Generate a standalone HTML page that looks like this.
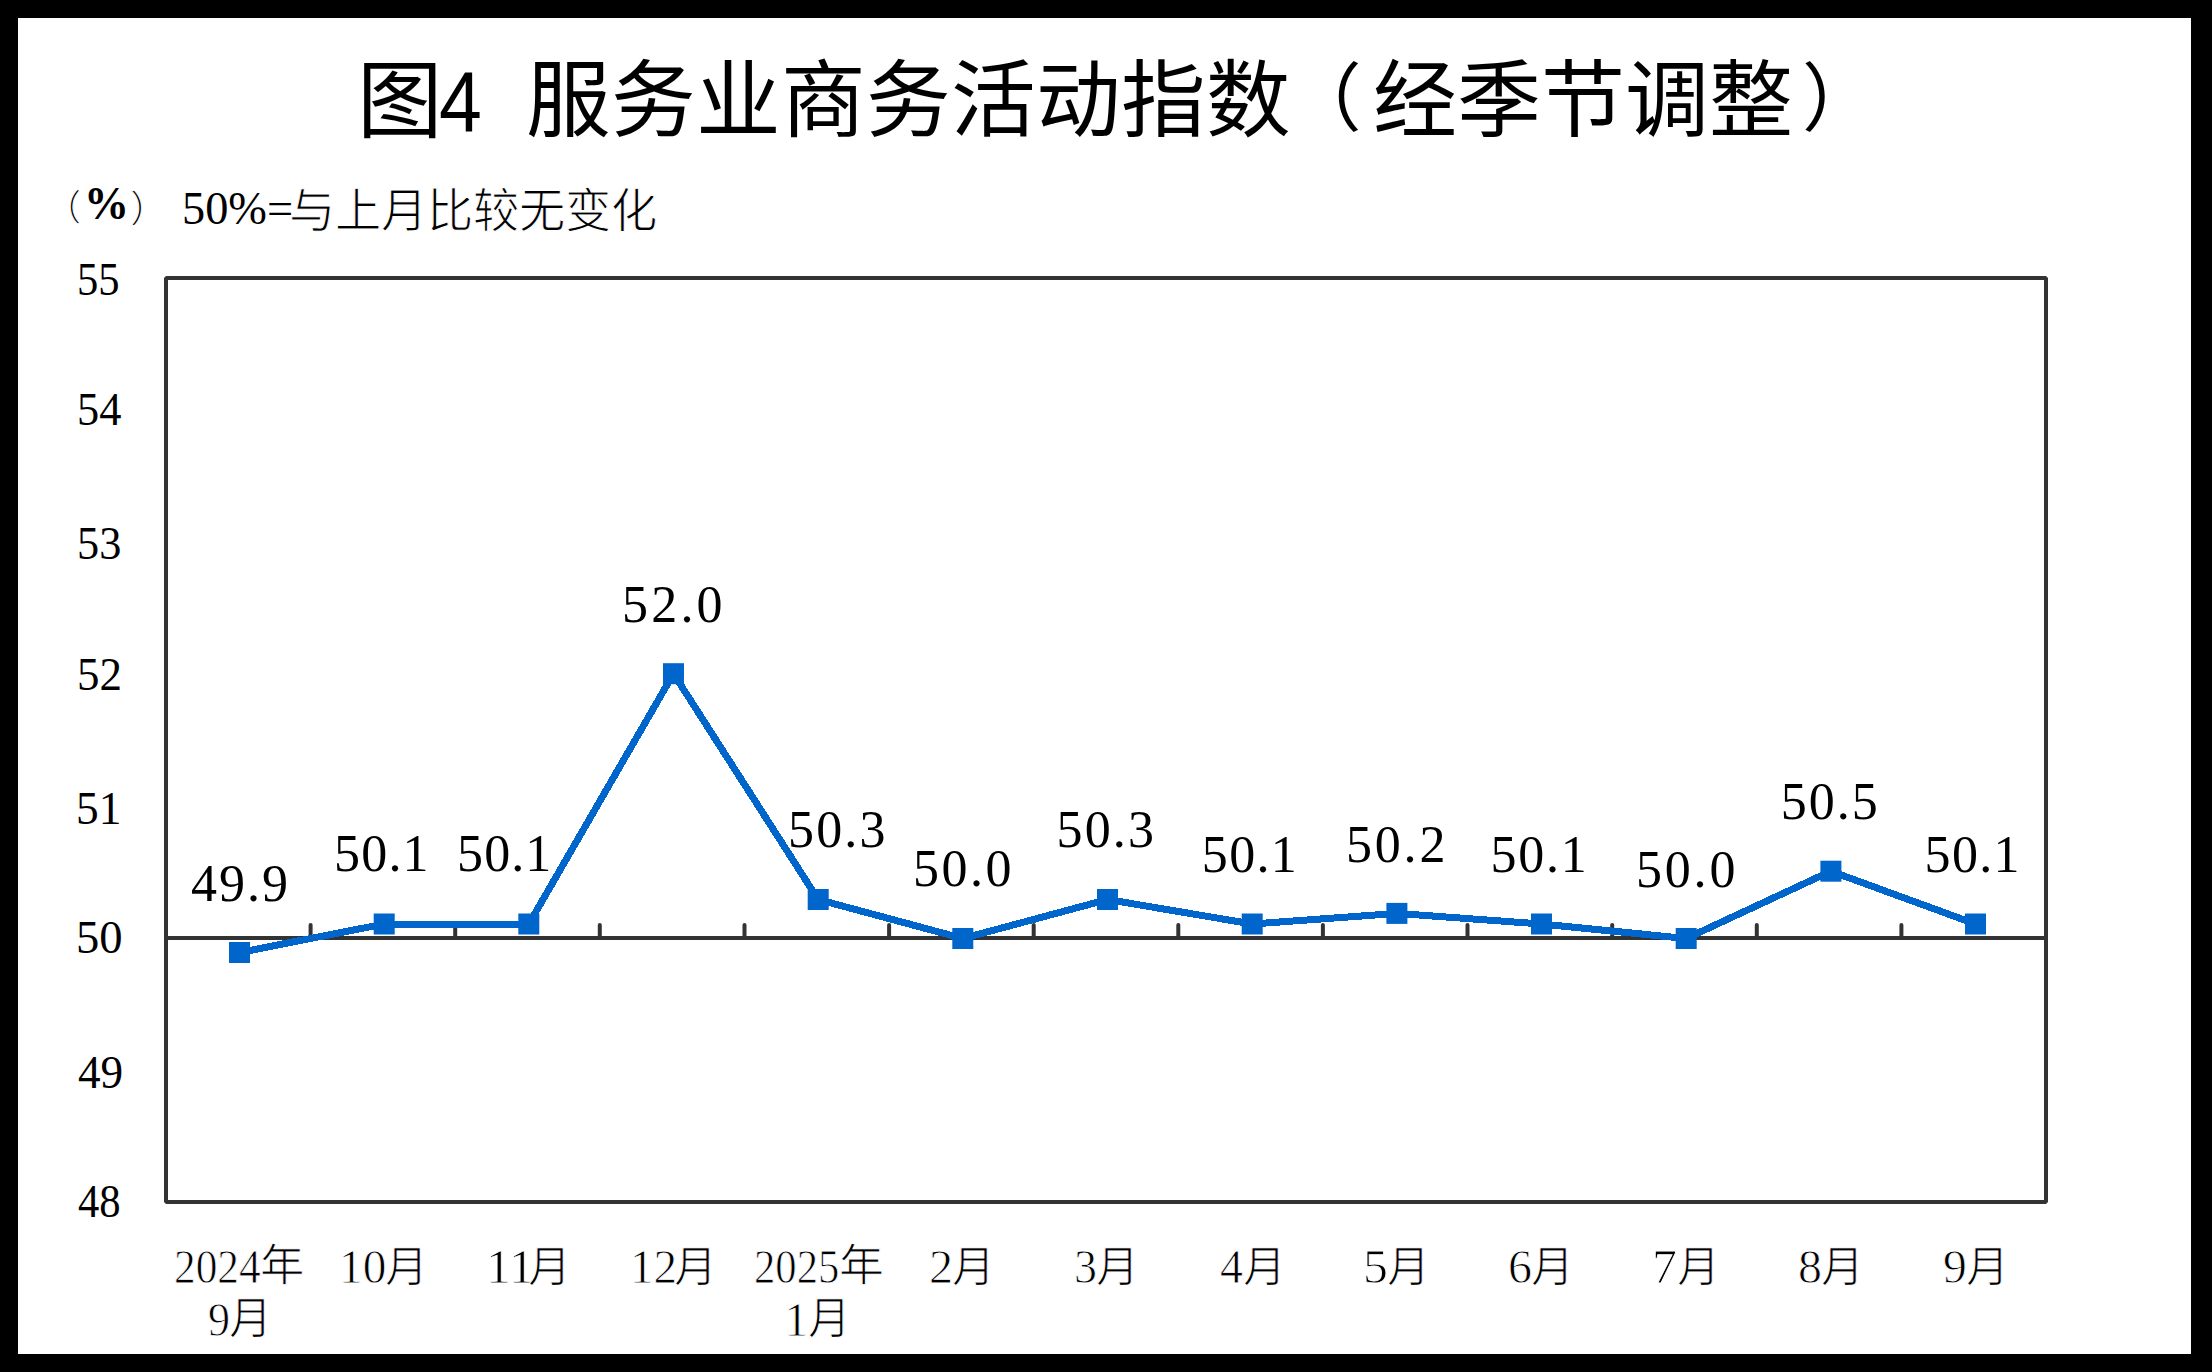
<!DOCTYPE html>
<html lang="zh-CN"><head><meta charset="utf-8"><title>图4 服务业商务活动指数（经季节调整）</title>
<style>html,body{margin:0;padding:0;background:#000;width:2212px;height:1372px;overflow:hidden}#root{position:relative;width:2212px;height:1372px}.t{position:absolute;white-space:nowrap;color:#000;transform-origin:0 0;text-spacing-trim:space-all}</style>
</head><body><div id="root">
<svg width="2212" height="1372" viewBox="0 0 2212 1372" style="position:absolute;left:0;top:0"><rect x="0" y="0" width="2212" height="1372" fill="#000"/><rect x="18" y="18" width="2173" height="1336" fill="#fff"/><rect x="166" y="278" width="1880" height="924" fill="none" stroke="#333333" stroke-width="4" stroke-linejoin="bevel"/><line x1="166" y1="938.0" x2="2046" y2="938.0" stroke="#333333" stroke-width="4"/><line x1="310.6" y1="925" x2="310.6" y2="938.0" stroke="#333333" stroke-width="4" stroke-linecap="round"/><line x1="455.2" y1="925" x2="455.2" y2="938.0" stroke="#333333" stroke-width="4" stroke-linecap="round"/><line x1="599.8" y1="925" x2="599.8" y2="938.0" stroke="#333333" stroke-width="4" stroke-linecap="round"/><line x1="744.5" y1="925" x2="744.5" y2="938.0" stroke="#333333" stroke-width="4" stroke-linecap="round"/><line x1="889.1" y1="925" x2="889.1" y2="938.0" stroke="#333333" stroke-width="4" stroke-linecap="round"/><line x1="1033.7" y1="925" x2="1033.7" y2="938.0" stroke="#333333" stroke-width="4" stroke-linecap="round"/><line x1="1178.3" y1="925" x2="1178.3" y2="938.0" stroke="#333333" stroke-width="4" stroke-linecap="round"/><line x1="1322.9" y1="925" x2="1322.9" y2="938.0" stroke="#333333" stroke-width="4" stroke-linecap="round"/><line x1="1467.5" y1="925" x2="1467.5" y2="938.0" stroke="#333333" stroke-width="4" stroke-linecap="round"/><line x1="1612.2" y1="925" x2="1612.2" y2="938.0" stroke="#333333" stroke-width="4" stroke-linecap="round"/><line x1="1756.8" y1="925" x2="1756.8" y2="938.0" stroke="#333333" stroke-width="4" stroke-linecap="round"/><line x1="1901.4" y1="925" x2="1901.4" y2="938.0" stroke="#333333" stroke-width="4" stroke-linecap="round"/><polyline points="239.5,952.5 384.2,924.0 528.8,924.0 673.5,673.7 818.2,899.5 962.8,938.5 1107.5,899.5 1252.2,924.0 1396.9,913.4 1541.5,924.0 1686.2,938.5 1830.9,871.2 1975.5,924.0" fill="none" stroke="#0066cc" stroke-width="7" stroke-linejoin="miter" shape-rendering="crispEdges"/><rect x="229.0" y="942.0" width="21" height="21" fill="#0066cc"/><rect x="373.7" y="913.5" width="21" height="21" fill="#0066cc"/><rect x="518.3" y="913.5" width="21" height="21" fill="#0066cc"/><rect x="663.0" y="663.2" width="21" height="21" fill="#0066cc"/><rect x="807.7" y="889.0" width="21" height="21" fill="#0066cc"/><rect x="952.3" y="928.0" width="21" height="21" fill="#0066cc"/><rect x="1097.0" y="889.0" width="21" height="21" fill="#0066cc"/><rect x="1241.7" y="913.5" width="21" height="21" fill="#0066cc"/><rect x="1386.4" y="902.9" width="21" height="21" fill="#0066cc"/><rect x="1531.0" y="913.5" width="21" height="21" fill="#0066cc"/><rect x="1675.7" y="928.0" width="21" height="21" fill="#0066cc"/><rect x="1820.4" y="860.7" width="21" height="21" fill="#0066cc"/><rect x="1965.0" y="913.5" width="21" height="21" fill="#0066cc"/></svg>
<div class="t" style="left:357.0px;top:59.0px;font-family:'Liberation Sans',sans-serif;font-size:85.47px;line-height:85.47px;">图</div><div class="t" style="left:439.4px;top:60.4px;font-family:'Liberation Sans',sans-serif;font-size:84.65px;line-height:84.65px;transform:scaleX(0.9098);">4</div><div class="t" style="left:525.9px;top:59.4px;font-family:'Liberation Sans',sans-serif;font-size:84.64px;line-height:84.64px;">服务业商务活动指数</div><div class="t" style="left:1287.4px;top:63.1px;font-family:'Liberation Sans',sans-serif;font-size:74.53px;line-height:74.53px;">（</div><div class="t" style="left:1373.1px;top:59.4px;font-family:'Liberation Sans',sans-serif;font-size:83.99px;line-height:83.99px;">经季节调整</div><div class="t" style="left:1801.7px;top:63.1px;font-family:'Liberation Sans',sans-serif;font-size:74.53px;line-height:74.53px;">）</div><div class="t" style="left:45.1px;top:191.4px;font-family:'Liberation Serif',serif;font-size:36.34px;line-height:36.34px;-webkit-text-stroke:1px #fff;">（</div><div class="t" style="left:84.0px;top:180.6px;font-family:'Liberation Serif',serif;font-size:46.11px;line-height:46.11px;font-weight:bold;transform:scaleX(0.9765);">%</div><div class="t" style="left:129.9px;top:191.4px;font-family:'Liberation Serif',serif;font-size:37.63px;line-height:37.63px;-webkit-text-stroke:1px #fff;">）</div><div class="t" style="left:181.9px;top:185.5px;font-family:'Liberation Serif',serif;font-size:46.00px;line-height:46.00px;transform:scaleX(1.0079);">50%=</div><div class="t" style="left:288.6px;top:188.7px;font-family:'Liberation Serif',serif;font-size:46.23px;line-height:46.23px;-webkit-text-stroke:1px #fff;">与上月比较无变化</div><div class="t" style="left:76.6px;top:255.7px;font-family:'Liberation Serif',serif;font-size:47.00px;line-height:47.00px;transform:scaleX(0.9050);">55</div><div class="t" style="left:77.0px;top:386.2px;font-family:'Liberation Serif',serif;font-size:47.00px;line-height:47.00px;transform:scaleX(0.9431);">54</div><div class="t" style="left:76.5px;top:519.5px;font-family:'Liberation Serif',serif;font-size:47.00px;line-height:47.00px;transform:scaleX(0.9435);">53</div><div class="t" style="left:76.5px;top:650.5px;font-family:'Liberation Serif',serif;font-size:47.00px;line-height:47.00px;transform:scaleX(0.9557);">52</div><div class="t" style="left:76.1px;top:784.7px;font-family:'Liberation Serif',serif;font-size:47.00px;line-height:47.00px;transform:scaleX(0.9653);">51</div><div class="t" style="left:76.1px;top:914.3px;font-family:'Liberation Serif',serif;font-size:47.00px;line-height:47.00px;transform:scaleX(0.9921);">50</div><div class="t" style="left:77.5px;top:1048.9px;font-family:'Liberation Serif',serif;font-size:47.00px;line-height:47.00px;transform:scaleX(0.9622);">49</div><div class="t" style="left:77.9px;top:1178.1px;font-family:'Liberation Serif',serif;font-size:47.00px;line-height:47.00px;transform:scaleX(0.9067);">48</div><div class="t" style="left:191.1px;top:857.8px;font-family:'Liberation Serif',serif;font-size:52.00px;line-height:52.00px;letter-spacing:2.00px;">49.9</div><div class="t" style="left:334.0px;top:828.0px;font-family:'Liberation Serif',serif;font-size:52.00px;line-height:52.00px;letter-spacing:1.20px;">50.1</div><div class="t" style="left:457.1px;top:828.0px;font-family:'Liberation Serif',serif;font-size:52.00px;line-height:52.00px;letter-spacing:1.07px;">50.1</div><div class="t" style="left:622.0px;top:579.0px;font-family:'Liberation Serif',serif;font-size:52.00px;line-height:52.00px;letter-spacing:3.20px;">52.0</div><div class="t" style="left:788.0px;top:804.4px;font-family:'Liberation Serif',serif;font-size:52.00px;line-height:52.00px;letter-spacing:2.13px;">50.3</div><div class="t" style="left:913.0px;top:843.0px;font-family:'Liberation Serif',serif;font-size:52.00px;line-height:52.00px;letter-spacing:2.53px;">50.0</div><div class="t" style="left:1056.5px;top:804.4px;font-family:'Liberation Serif',serif;font-size:52.00px;line-height:52.00px;letter-spacing:2.13px;">50.3</div><div class="t" style="left:1201.8px;top:829.0px;font-family:'Liberation Serif',serif;font-size:52.00px;line-height:52.00px;letter-spacing:1.33px;">50.1</div><div class="t" style="left:1346.0px;top:818.6px;font-family:'Liberation Serif',serif;font-size:52.00px;line-height:52.00px;letter-spacing:2.80px;">50.2</div><div class="t" style="left:1490.5px;top:828.7px;font-family:'Liberation Serif',serif;font-size:52.00px;line-height:52.00px;letter-spacing:1.73px;">50.1</div><div class="t" style="left:1636.0px;top:843.8px;font-family:'Liberation Serif',serif;font-size:52.00px;line-height:52.00px;letter-spacing:2.80px;">50.0</div><div class="t" style="left:1780.8px;top:776.3px;font-family:'Liberation Serif',serif;font-size:52.00px;line-height:52.00px;letter-spacing:2.00px;">50.5</div><div class="t" style="left:1924.6px;top:829.0px;font-family:'Liberation Serif',serif;font-size:52.00px;line-height:52.00px;letter-spacing:1.33px;">50.1</div><div class="t" style="left:174.2px;top:1243.6px;font-family:'Liberation Serif',serif;font-size:47.50px;line-height:47.50px;transform:scaleX(0.9129);-webkit-text-stroke:0.8px #fff;">2024</div><div class="t" style="left:259.9px;top:1245.3px;font-family:'Liberation Serif',serif;font-size:44.01px;line-height:44.01px;transform:scaleX(1.0080);-webkit-text-stroke:1px #fff;">年</div><div class="t" style="left:338.5px;top:1243.6px;font-family:'Liberation Serif',serif;font-size:47.50px;line-height:47.50px;transform:scaleX(0.9954);-webkit-text-stroke:0.8px #fff;">10</div><div class="t" style="left:384.6px;top:1245.7px;font-family:'Liberation Serif',serif;font-size:43.66px;line-height:43.66px;transform:scaleX(0.9811);-webkit-text-stroke:1px #fff;">月</div><div class="t" style="left:485.5px;top:1243.6px;font-family:'Liberation Serif',serif;font-size:47.50px;line-height:47.50px;transform:scaleX(1.0500);-webkit-text-stroke:0.8px #fff;">11</div><div class="t" style="left:527.8px;top:1245.7px;font-family:'Liberation Serif',serif;font-size:43.66px;line-height:43.66px;transform:scaleX(0.9811);-webkit-text-stroke:1px #fff;">月</div><div class="t" style="left:629.5px;top:1243.6px;font-family:'Liberation Serif',serif;font-size:47.50px;line-height:47.50px;transform:scaleX(0.9941);-webkit-text-stroke:0.8px #fff;">12</div><div class="t" style="left:673.6px;top:1245.7px;font-family:'Liberation Serif',serif;font-size:43.66px;line-height:43.66px;transform:scaleX(0.9811);-webkit-text-stroke:1px #fff;">月</div><div class="t" style="left:753.8px;top:1243.6px;font-family:'Liberation Serif',serif;font-size:47.50px;line-height:47.50px;transform:scaleX(0.8978);-webkit-text-stroke:0.8px #fff;">2025</div><div class="t" style="left:839.1px;top:1245.3px;font-family:'Liberation Serif',serif;font-size:44.01px;line-height:44.01px;transform:scaleX(1.0206);-webkit-text-stroke:1px #fff;">年</div><div class="t" style="left:928.7px;top:1243.6px;font-family:'Liberation Serif',serif;font-size:47.50px;line-height:47.50px;transform:scaleX(1.0154);-webkit-text-stroke:0.8px #fff;">2</div><div class="t" style="left:952.0px;top:1245.7px;font-family:'Liberation Serif',serif;font-size:43.66px;line-height:43.66px;transform:scaleX(0.9811);-webkit-text-stroke:1px #fff;">月</div><div class="t" style="left:1074.3px;top:1243.6px;font-family:'Liberation Serif',serif;font-size:47.50px;line-height:47.50px;transform:scaleX(0.9672);-webkit-text-stroke:0.8px #fff;">3</div><div class="t" style="left:1096.4px;top:1245.7px;font-family:'Liberation Serif',serif;font-size:43.66px;line-height:43.66px;transform:scaleX(0.9811);-webkit-text-stroke:1px #fff;">月</div><div class="t" style="left:1220.0px;top:1243.6px;font-family:'Liberation Serif',serif;font-size:47.50px;line-height:47.50px;transform:scaleX(0.9680);-webkit-text-stroke:0.8px #fff;">4</div><div class="t" style="left:1243.0px;top:1245.7px;font-family:'Liberation Serif',serif;font-size:43.66px;line-height:43.66px;transform:scaleX(0.9811);-webkit-text-stroke:1px #fff;">月</div><div class="t" style="left:1363.1px;top:1243.6px;font-family:'Liberation Serif',serif;font-size:47.50px;line-height:47.50px;transform:scaleX(1.0500);-webkit-text-stroke:0.8px #fff;">5</div><div class="t" style="left:1387.0px;top:1245.7px;font-family:'Liberation Serif',serif;font-size:43.66px;line-height:43.66px;transform:scaleX(0.9811);-webkit-text-stroke:1px #fff;">月</div><div class="t" style="left:1508.1px;top:1243.6px;font-family:'Liberation Serif',serif;font-size:47.50px;line-height:47.50px;transform:scaleX(1.0108);-webkit-text-stroke:0.8px #fff;">6</div><div class="t" style="left:1531.0px;top:1245.7px;font-family:'Liberation Serif',serif;font-size:43.66px;line-height:43.66px;transform:scaleX(0.9811);-webkit-text-stroke:1px #fff;">月</div><div class="t" style="left:1652.2px;top:1243.6px;font-family:'Liberation Serif',serif;font-size:47.50px;line-height:47.50px;transform:scaleX(1.0500);-webkit-text-stroke:0.8px #fff;">7</div><div class="t" style="left:1677.0px;top:1245.7px;font-family:'Liberation Serif',serif;font-size:43.66px;line-height:43.66px;transform:scaleX(0.9811);-webkit-text-stroke:1px #fff;">月</div><div class="t" style="left:1798.0px;top:1243.6px;font-family:'Liberation Serif',serif;font-size:47.50px;line-height:47.50px;transform:scaleX(1.0080);-webkit-text-stroke:0.8px #fff;">8</div><div class="t" style="left:1821.0px;top:1245.7px;font-family:'Liberation Serif',serif;font-size:43.66px;line-height:43.66px;transform:scaleX(0.9811);-webkit-text-stroke:1px #fff;">月</div><div class="t" style="left:1943.0px;top:1243.6px;font-family:'Liberation Serif',serif;font-size:47.50px;line-height:47.50px;transform:scaleX(1.0027);-webkit-text-stroke:0.8px #fff;">9</div><div class="t" style="left:1966.0px;top:1245.7px;font-family:'Liberation Serif',serif;font-size:43.66px;line-height:43.66px;transform:scaleX(0.9811);-webkit-text-stroke:1px #fff;">月</div><div class="t" style="left:207.5px;top:1297.1px;font-family:'Liberation Serif',serif;font-size:47.50px;line-height:47.50px;transform:scaleX(0.9275);-webkit-text-stroke:0.8px #fff;">9</div><div class="t" style="left:228.7px;top:1297.7px;font-family:'Liberation Serif',serif;font-size:44.04px;line-height:44.04px;transform:scaleX(0.9743);-webkit-text-stroke:1px #fff;">月</div><div class="t" style="left:784.5px;top:1296.9px;font-family:'Liberation Serif',serif;font-size:47.50px;line-height:47.50px;-webkit-text-stroke:0.8px #fff;">1</div><div class="t" style="left:808.2px;top:1297.7px;font-family:'Liberation Serif',serif;font-size:44.04px;line-height:44.04px;transform:scaleX(0.9641);-webkit-text-stroke:1px #fff;">月</div>
</div></body></html>
